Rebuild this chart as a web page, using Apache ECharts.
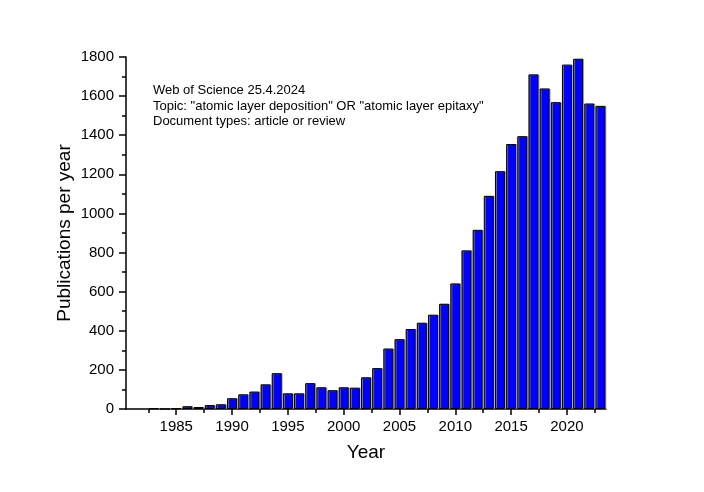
<!DOCTYPE html>
<html>
<head>
<meta charset="utf-8">
<script src="https://cdn.jsdelivr.net/npm/echarts@6/dist/echarts.min.js"></script>
<style>
html,body{margin:0;padding:0;background:#fff;}
#chart{width:704px;height:492px;}
</style>
</head>
<body>
<div id="chart"></div>
<script>
const years = [1983,1984,1985,1986,1987,1988,1989,1990,1991,1992,1993,1994,1995,1996,1997,1998,1999,2000,2001,2002,2003,2004,2005,2006,2007,2008,2009,2010,2011,2012,2013,2014,2015,2016,2017,2018,2019,2020,2021,2022,2023];
const publications = [3,0,3,14,10,20,24,55,75,89,126,183,80,80,132,111,96,111,109,162,209,309,357,409,441,482,538,642,811,916,1090,1216,1355,1395,1711,1639,1569,1761,1791,1562,1550];
const xMajorTicks = [1985,1990,1995,2000,2005,2010,2015,2020];
const xMinorTicks = [1982.5,1987.5,1992.5,1997.5,2002.5,2007.5,2012.5,2017.5,2022.5];
const noteLines = [
  'Web of Science 25.4.2024',
  'Topic: "atomic layer deposition" OR "atomic layer epitaxy"',
  'Document types: article or review'
];

const FONT = '"Liberation Sans", Arial, sans-serif';
const chart = echarts.init(document.getElementById('chart'), null, {renderer: 'canvas'});
const seriesData = years.map((y, i) => [y, publications[i]]);
const plain = v => String(v);

chart.setOption({
  backgroundColor: '#fff',
  animation: false,
  grid: {left: 126, right: 98, top: 57, bottom: 83, containLabel: false},
  xAxis: [{
    type: 'value',
    min: 1980.5,
    max: 2023.5,
    name: 'Year',
    nameLocation: 'middle',
    nameGap: 34,
    nameMoveOverlap: false,
    nameTextStyle: {fontFamily: FONT, fontSize: 19, color: '#000'},
    axisLine: {show: true, lineStyle: {color: '#000', width: 1.5}},
    axisTick: {show: true, length: 6, lineStyle: {color: '#000', width: 1.5}, customValues: xMajorTicks},
    axisLabel: {show: true, fontFamily: FONT, fontSize: 15, color: '#000', margin: 10, customValues: xMajorTicks, formatter: plain},
    splitLine: {show: false},
    minorTick: {show: false}
  }, {
    type: 'value',
    min: 1980.5,
    max: 2023.5,
    position: 'bottom',
    axisLine: {show: false},
    axisTick: {show: true, length: 4, lineStyle: {color: '#000', width: 1.5}, customValues: xMinorTicks},
    axisLabel: {show: false},
    splitLine: {show: false}
  }],
  yAxis: {
    type: 'value',
    min: 0,
    max: 1800,
    interval: 200,
    name: 'Publications per year',
    nameLocation: 'middle',
    nameGap: 52,
    nameMoveOverlap: false,
    nameTextStyle: {fontFamily: FONT, fontSize: 19, color: '#000'},
    axisLine: {show: true, lineStyle: {color: '#000', width: 1.5}},
    axisTick: {show: true, length: 7, lineStyle: {color: '#000', width: 1.5}},
    minorTick: {show: true, splitNumber: 2, length: 4, lineStyle: {color: '#000', width: 1.5}},
    axisLabel: {fontFamily: FONT, fontSize: 15, color: '#000', margin: 12, formatter: plain},
    splitLine: {show: false}
  },
  series: [{
    type: 'bar',
    xAxisIndex: 0,
    data: seriesData,
    barWidth: 10,
    itemStyle: {
      color: '#0000ff',
      borderColor: '#000',
      borderWidth: 1,
      shadowColor: 'rgba(150,150,150,0.7)',
      shadowOffsetX: 1,
      shadowOffsetY: 0,
      shadowBlur: 0
    },
    z: 2
  }],
  graphic: [{
    type: 'text',
    left: 153,
    top: 83,
    style: {
      text: noteLines.join('\n'),
      font: '13px ' + FONT,
      lineHeight: 15.5,
      fill: '#000'
    }
  }]
});
</script>
</body>
</html>
